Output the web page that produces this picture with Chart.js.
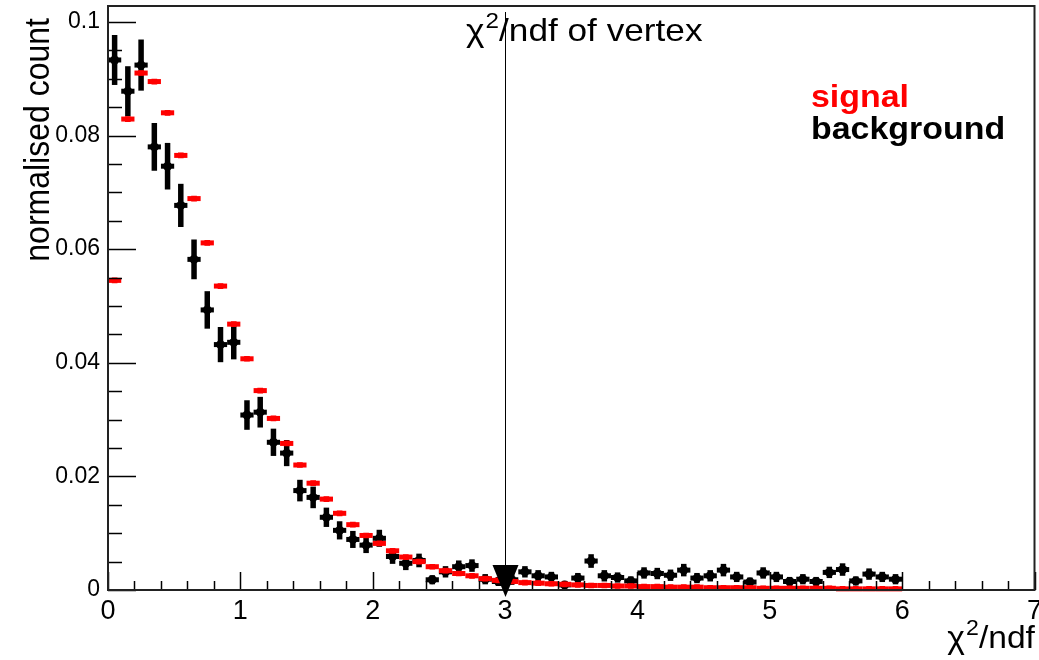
<!DOCTYPE html>
<html>
<head>
<meta charset="utf-8">
<script src="https://cdn.jsdelivr.net/npm/chart.js@4.4.0/dist/chart.umd.min.js"></script>
<style>
  body { margin: 0; background: #fff; }
</style>
</head>
<body>
<canvas id="vertex-chi2-chart" width="1039" height="660"></canvas>
<script>
// bin centres of the chi2/ndf histogram (bin width 0.1)
var binCenters = [
  0.05, 0.15, 0.25, 0.35, 0.45, 0.55, 0.65, 0.75, 0.85, 0.95,
  1.05, 1.15, 1.25, 1.35, 1.45, 1.55, 1.65, 1.75, 1.85, 1.95,
  2.05, 2.15, 2.25, 2.35, 2.45, 2.55, 2.65, 2.75, 2.85, 2.95,
  3.05, 3.15, 3.25, 3.35, 3.45, 3.55, 3.65, 3.75, 3.85, 3.95,
  4.05, 4.15, 4.25, 4.35, 4.45, 4.55, 4.65, 4.75, 4.85, 4.95,
  5.05, 5.15, 5.25, 5.35, 5.45, 5.55, 5.65, 5.75, 5.85, 5.95
];
var signalValues = [
  0.0545, 0.0829, 0.0910, 0.0895, 0.0840, 0.0765, 0.0689, 0.0611, 0.0535, 0.0468,
  0.0407, 0.0351, 0.0302, 0.0258, 0.0220, 0.0188, 0.0160, 0.0135, 0.0115, 0.0096,
  0.0082, 0.0069, 0.0058, 0.0050, 0.0041, 0.0034, 0.0029, 0.0025, 0.0020, 0.0017,
  0.0015, 0.0013, 0.0012, 0.0011, 0.0010, 0.0009, 0.0008, 0.0008, 0.0007, 0.0007,
  0.0006, 0.0006, 0.0005, 0.0005, 0.0005, 0.0004, 0.0004, 0.0004, 0.0004, 0.0003,
  0.0003, 0.0003, 0.0003, 0.0003, 0.0003, 0.0002, 0.0002, 0.0002, 0.0002, 0.0002
];
var backgroundValues = [
  0.0933, 0.0878, 0.0924, 0.0780, 0.0746, 0.0677, 0.0582, 0.0493, 0.0432, 0.0436,
  0.0308, 0.0313, 0.0260, 0.0241, 0.0175, 0.0163, 0.0128, 0.0105, 0.0089, 0.0079,
  0.0091, 0.0059, 0.0047, 0.0052, 0.0018, 0.0032, 0.0041, 0.0043, 0.0019, 0.0015,
  0.0018, 0.0032, 0.0025, 0.0023, 0.0009, 0.0021, 0.0051, 0.0025, 0.0022, 0.0016,
  0.0030, 0.0029, 0.0026, 0.0035, 0.0021, 0.0025, 0.0035, 0.0023, 0.0014, 0.0030,
  0.0023, 0.0015, 0.0019, 0.0015, 0.0031, 0.0036, 0.0016, 0.0028, 0.0023, 0.0019
];
var backgroundErrors = [
  0.0044, 0.0044, 0.0045, 0.0042, 0.0041, 0.0038, 0.0035, 0.0033, 0.0031, 0.0030,
  0.0026, 0.0027, 0.0024, 0.0023, 0.0019, 0.0019, 0.0017, 0.0016, 0.0015, 0.0014,
  0.0015, 0.0013, 0.0012, 0.0012, 0.0008, 0.0010, 0.0011, 0.0011, 0.0009, 0.0008,
  0.0009, 0.0010, 0.0010, 0.0009, 0.0007, 0.0009, 0.0012, 0.0010, 0.0009, 0.0008,
  0.0010, 0.0010, 0.0010, 0.0011, 0.0009, 0.0010, 0.0011, 0.0009, 0.0008, 0.0010,
  0.0009, 0.0008, 0.0009, 0.0008, 0.0010, 0.0011, 0.0008, 0.0010, 0.0009, 0.0009
];
var xTicks = [0, 1, 2, 3, 4, 5, 6, 7];
var xTickLabels = ["0", "1", "2", "3", "4", "5", "6", "7"];
var yTicks = [0, 0.02, 0.04, 0.06, 0.08, 0.1];
var yTickLabels = ["0", "0.02", "0.04", "0.06", "0.08", "0.1"];
var binHalfWidth = 0.05;
var cutValue = 3;

var FONT = "'Liberation Sans', Arial, Helvetica, sans-serif";

function toPoints(values) {
  return values.map(function (v, i) {
    return { x: binCenters[i], y: v };
  });
}

// "χ²..." with a raised, smaller 2 like ROOT's latex
function drawChiText(ctx, rest, size) {
  ctx.font = size + "px " + FONT;
  ctx.fillText("\u03c7", 0, 0);
  var w = ctx.measureText("\u03c7").width;
  ctx.font = Math.round(size * 0.68) + "px " + FONT;
  ctx.fillText("2", w + 1, -size * 0.4);
  var w2 = ctx.measureText("2").width;
  ctx.font = size + "px " + FONT;
  ctx.fillText(rest, w + w2 + 1, 0);
  return w + w2 + 1 + ctx.measureText(rest).width;
}

// horizontal (bin width) and vertical (stat error) bars, ROOT style
var errorBarPlugin = {
  id: "errorBars",
  beforeDatasetDraw: function (chart, args) {
    var ds = chart.data.datasets[args.index];
    var ctx = chart.ctx;
    var xs = chart.scales.x;
    var ys = chart.scales.y;
    ctx.save();
    ctx.strokeStyle = ds.borderColor;
    ds.data.forEach(function (p, i) {
      var py = ys.getPixelForValue(p.y);
      var px = xs.getPixelForValue(p.x);
      ctx.lineWidth = ds.hBarWidth;
      ctx.beginPath();
      ctx.moveTo(xs.getPixelForValue(p.x - binHalfWidth), py);
      ctx.lineTo(xs.getPixelForValue(p.x + binHalfWidth), py);
      ctx.stroke();
      if (ds.errors) {
        ctx.lineWidth = ds.vBarWidth;
        ctx.beginPath();
        ctx.moveTo(px, ys.getPixelForValue(p.y - ds.errors[i]));
        ctx.lineTo(px, ys.getPixelForValue(p.y + ds.errors[i]));
        ctx.stroke();
      }
    });
    ctx.restore();
  }
};

// frame, inside tick marks, cut line + arrow, titles and legend text
var framePlugin = {
  id: "rootFrame",
  afterDatasetsDraw: function (chart) {
    var ctx = chart.ctx;
    var a = chart.chartArea;
    var xs = chart.scales.x;
    var ys = chart.scales.y;
    var v, p;
    ctx.save();

    // minor/major ticks on x axis
    ctx.strokeStyle = "#000";
    ctx.lineWidth = 1.5;
    for (v = 0; v <= 35; v++) {
      p = Math.round(xs.getPixelForValue(v * 0.2)) + 0.5;
      var len = v % 5 === 0 ? 18 : 9;
      ctx.beginPath();
      ctx.moveTo(p, a.bottom);
      ctx.lineTo(p, a.bottom - len);
      ctx.stroke();
    }
    // minor/major ticks on y axis
    for (v = 0; v <= 20; v++) {
      p = Math.round(ys.getPixelForValue(v * 0.005)) + 0.5;
      var ylen = v % 4 === 0 ? 28 : 14;
      ctx.beginPath();
      ctx.moveTo(a.left, p);
      ctx.lineTo(a.left + ylen, p);
      ctx.stroke();
    }

    // frame
    ctx.strokeStyle = "#222";
    ctx.lineWidth = 2;
    ctx.strokeRect(a.left, a.top, a.right - a.left, a.bottom - a.top);

    // cut line at chi2/ndf = 3 with arrow
    var cx = Math.round(xs.getPixelForValue(cutValue)) + 0.5;
    ctx.strokeStyle = "#000";
    ctx.lineWidth = 1;
    ctx.beginPath();
    ctx.moveTo(cx, a.top + 6);
    ctx.lineTo(cx, a.bottom);
    ctx.stroke();
    ctx.fillStyle = "#000";
    ctx.beginPath();
    ctx.moveTo(cx - 13, a.bottom - 25);
    ctx.lineTo(cx + 13, a.bottom - 25);
    ctx.lineTo(cx, a.bottom + 7);
    ctx.closePath();
    ctx.fill();
    ctx.restore();
  },
  afterDraw: function (chart) {
    var ctx = chart.ctx;
    ctx.save();
    ctx.fillStyle = "#000";
    ctx.textBaseline = "alphabetic";
    ctx.textAlign = "left";

    // plot title
    ctx.save();
    ctx.translate(466, 41);
    ctx.scale(1.1, 1);
    drawChiText(ctx, "/ndf of vertex", 32);
    ctx.restore();

    // legend texts
    ctx.save();
    ctx.translate(811, 0);
    ctx.scale(1.06, 1);
    ctx.font = "bold 32px " + FONT;
    ctx.fillStyle = "#ff0000";
    ctx.fillText("signal", 0, 107);
    ctx.fillStyle = "#000";
    ctx.fillText("background", 0, 139);
    ctx.restore();

    // x axis title, right aligned at the frame end
    ctx.save();
    ctx.font = "32px " + FONT;
    var wChi = ctx.measureText("\u03c7").width + 1;
    ctx.font = "22px " + FONT;
    wChi += ctx.measureText("2").width + 1;
    ctx.font = "32px " + FONT;
    wChi += ctx.measureText("/ndf").width;
    ctx.translate(1036 - wChi * 1.05, 648);
    ctx.scale(1.05, 1);
    drawChiText(ctx, "/ndf", 32);
    ctx.restore();

    // y axis title
    ctx.save();
    ctx.translate(49, 18);
    ctx.scale(1.1, 1);
    ctx.rotate(-Math.PI / 2);
    ctx.font = "32px " + FONT;
    ctx.textAlign = "right";
    ctx.fillText("normalised count", 0, 0);
    ctx.restore();

    ctx.restore();
  }
};

var chi2Chart = new Chart(document.getElementById("vertex-chi2-chart").getContext("2d"), {
  type: "scatter",
  data: {
    datasets: [
      {
        label: "signal",
        data: toPoints(signalValues),
        borderColor: "#ff0000",
        backgroundColor: "#ff0000",
        pointStyle: "rect",
        pointRadius: 4,
        pointBorderWidth: 0,
        hBarWidth: 5
      },
      {
        label: "background",
        data: toPoints(backgroundValues),
        errors: backgroundErrors,
        borderColor: "#000000",
        backgroundColor: "#000000",
        pointStyle: "circle",
        pointRadius: 4.5,
        pointBorderWidth: 0,
        hBarWidth: 5,
        vBarWidth: 5.5
      }
    ]
  },
  options: {
    responsive: false,
    animation: false,
    events: [],
    layout: { padding: { top: 6, right: 3, left: 0, bottom: 0 } },
    plugins: {
      legend: { display: false },
      tooltip: { enabled: false }
    },
    scales: {
      x: {
        type: "linear",
        min: 0,
        max: 7,
        grid: { display: false, drawTicks: false },
        border: { display: false },
        afterBuildTicks: function (scale) {
          scale.ticks = xTicks.map(function (v) { return { value: v }; });
        },
        afterFit: function (scale) {
          scale.height = 70;
          scale.paddingLeft = 0;
          scale.paddingRight = 0;
        },
        ticks: {
          padding: 5,
          color: "#000",
          maxRotation: 0,
          autoSkip: false,
          font: { family: FONT, size: 27 },
          callback: function (value, index) { return xTickLabels[index]; }
        }
      },
      y: {
        type: "linear",
        min: 0,
        max: 0.1028,
        grid: { display: false, drawTicks: false },
        border: { display: false },
        afterBuildTicks: function (scale) {
          scale.ticks = yTicks.map(function (v) { return { value: v }; });
        },
        afterFit: function (scale) {
          scale.width = 108;
          scale.paddingTop = 0;
          scale.paddingBottom = 0;
        },
        ticks: {
          padding: 8,
          color: "#000",
          autoSkip: false,
          font: { family: FONT, size: 23 },
          callback: function (value, index) { return yTickLabels[index]; }
        }
      }
    }
  },
  plugins: [errorBarPlugin, framePlugin]
});
</script>
</body>
</html>
